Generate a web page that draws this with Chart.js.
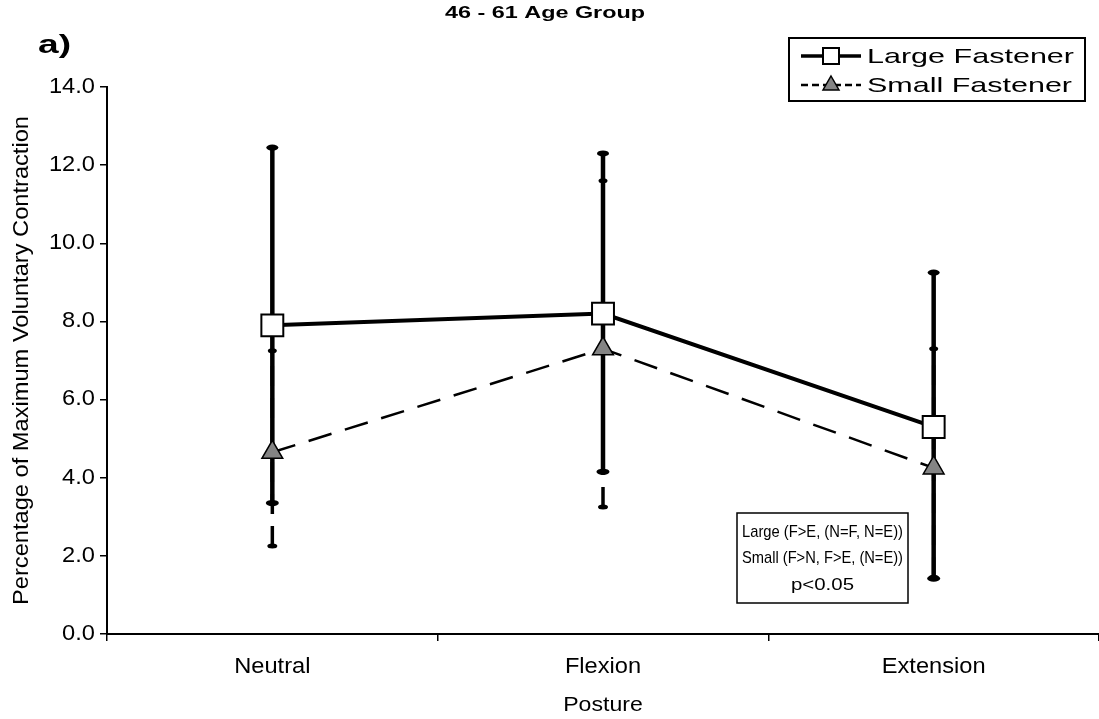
<!DOCTYPE html>
<html>
<head>
<meta charset="utf-8">
<title>46 - 61 Age Group</title>
<script src="https://cdn.jsdelivr.net/npm/chart.js@4/dist/chart.umd.min.js"></script>
<style>
  html, body { margin: 0; padding: 0; background: #fff; }
  canvas { display: block; }
</style>
</head>
<body>
<canvas id="c" width="1099" height="719"></canvas>
<script>
// Posture categories and muscle activity (% MVC), mean with error-bar ends
const postures = ['Neutral', 'Flexion', 'Extension'];
const largeMean = [7.9, 8.2, 5.3];
const largeLow  = [3.35, 4.15, 1.42];
const largeHigh = [12.45, 12.3, 9.25];
const smallMean = [4.65, 7.3, 4.25];
const smallLow  = [2.25, 3.25, 1.45];
const smallHigh = [7.25, 11.6, 7.3];
const yTickStep = 2;
const chartTitle = '46 - 61 Age Group';
const panelTag = 'a)';
const statNotes = ['Large (F>E, (N=F, N=E))', 'Small (F>N, F>E, (N=E))', 'p<0.05'];

const FONT = "'Liberation Sans', Arial, sans-serif";

const canvas = document.getElementById('c');
const ctx2d = canvas.getContext('2d');

// the figure's lettering is set slightly wide: draw every string with a
// horizontal stretch (ctx.textStretchX) around its anchor point
const plainFillText = ctx2d.fillText.bind(ctx2d);
ctx2d.textStretchX = 1.1;
ctx2d.fillText = function (text, x, y, maxWidth) {
  const sx = this.textStretchX || 1;
  this.save();
  this.translate(x, y);
  this.scale(sx, 1);
  if (maxWidth !== undefined) plainFillText(text, 0, 0, maxWidth / sx);
  else plainFillText(text, 0, 0);
  this.restore();
};

// write a string stretched/condensed so that it spans a given width
function fitText(ctx, text, x, y, width) {
  const w = ctx.measureText(text).width;
  const keep = ctx.textStretchX;
  ctx.textStretchX = width / w;
  ctx.fillText(text, x, y);
  ctx.textStretchX = keep;
}

// vertical error bars with rounded caps, drawn under the lines and markers
const errorBars = {
  id: 'errorBars',
  beforeDatasetsDraw(chart) {
    const { ctx, scales: { x, y } } = chart;
    const cap = (px, py, rx, ry) => {
      ctx.beginPath();
      ctx.ellipse(px, py, rx, ry, 0, 0, Math.PI * 2);
      ctx.fill();
    };
    ctx.save();
    ctx.strokeStyle = '#000';
    ctx.fillStyle = '#000';
    // small fastener: dashed bars
    postures.forEach((_, i) => {
      const px = x.getPixelForValue(i);
      const yl = y.getPixelForValue(smallLow[i]);
      const yh = y.getPixelForValue(smallHigh[i]);
      ctx.lineWidth = 3.5;
      ctx.setLineDash([20, 12]);
      ctx.beginPath();
      ctx.moveTo(px, yl);
      ctx.lineTo(px, yh);
      ctx.stroke();
      ctx.setLineDash([]);
      cap(px, yl, 5, 2.5);
      cap(px, yh, 4.5, 2.5);
    });
    // large fastener: solid bars
    postures.forEach((_, i) => {
      const px = x.getPixelForValue(i);
      const yl = y.getPixelForValue(largeLow[i]);
      const yh = y.getPixelForValue(largeHigh[i]);
      ctx.lineWidth = 4.5;
      ctx.beginPath();
      ctx.moveTo(px, yl);
      ctx.lineTo(px, yh);
      ctx.stroke();
      cap(px, yl, 6.5, 3.2);
      cap(px, yh, 6, 3);
    });
    ctx.restore();
  }
};

// title, panel letter, legend box and statistics box
const decorations = {
  id: 'decorations',
  afterDraw(chart) {
    const { ctx } = chart;
    const ds = chart.data.datasets;
    ctx.save();
    ctx.fillStyle = '#000';
    ctx.textBaseline = 'middle';

    ctx.textAlign = 'center';
    ctx.font = `bold 17px ${FONT}`;
    fitText(ctx, chartTitle, 545, 13, 200);

    ctx.textAlign = 'left';
    ctx.font = `bold 25px ${FONT}`;
    fitText(ctx, panelTag, 38, 46, 33);

    // legend
    const lx = 789, ly = 38, lw = 296, lh = 63;
    ctx.fillStyle = '#fff';
    ctx.fillRect(lx, ly, lw, lh);
    ctx.strokeStyle = '#000';
    ctx.lineWidth = 2;
    ctx.strokeRect(lx, ly, lw, lh);
    const rows = [ly + 18, ly + 47];
    ds.forEach((d, i) => {
      const yy = rows[i];
      ctx.strokeStyle = '#000';
      ctx.lineWidth = i === 0 ? 3.5 : 2.5;
      ctx.setLineDash(i === 0 ? [] : [7, 4]);
      ctx.beginPath();
      ctx.moveTo(lx + 12, yy);
      ctx.lineTo(lx + 72, yy);
      ctx.stroke();
      ctx.setLineDash([]);
      const mx = lx + 42;
      ctx.lineWidth = i === 0 ? 2 : 1.5;
      ctx.fillStyle = d.pointBackgroundColor;
      if (d.pointStyle === 'rect') {
        ctx.fillRect(mx - 8, yy - 8, 16, 16);
        ctx.strokeRect(mx - 8, yy - 8, 16, 16);
      } else {
        ctx.beginPath();
        ctx.moveTo(mx, yy - 9);
        ctx.lineTo(mx + 8, yy + 5);
        ctx.lineTo(mx - 8, yy + 5);
        ctx.closePath();
        ctx.fill();
        ctx.stroke();
      }
      ctx.fillStyle = '#000';
      ctx.font = `21px ${FONT}`;
      ctx.textAlign = 'left';
      fitText(ctx, d.label, lx + 78, yy + 1, i === 0 ? 207 : 205);
    });

    // statistics note
    const bx = 737, by = 513, bw = 171, bh = 90;
    ctx.fillStyle = '#fff';
    ctx.fillRect(bx, by, bw, bh);
    ctx.strokeStyle = '#000';
    ctx.lineWidth = 1.5;
    ctx.strokeRect(bx, by, bw, bh);
    ctx.fillStyle = '#000';
    ctx.font = `17px ${FONT}`;
    ctx.textAlign = 'center';
    const widths = [161, 161, 63];
    statNotes.forEach((t, i) => fitText(ctx, t, bx + bw / 2, by + 19 + i * 26.5, widths[i]));
    ctx.restore();
  }
};

const tickFont = { family: FONT, size: 21.5 };

new Chart(canvas, {
  type: 'line',
  data: {
    labels: postures,
    datasets: [
      {
        label: 'Large Fastener',
        data: largeMean,
        borderColor: '#000',
        borderWidth: 4,
        pointStyle: 'rect',
        pointRadius: 15.5,
        pointBackgroundColor: '#fff',
        pointBorderColor: '#000',
        pointBorderWidth: 2,
        tension: 0
      },
      {
        label: 'Small Fastener',
        data: smallMean,
        borderColor: '#000',
        borderWidth: 2.5,
        borderDash: [24, 14],
        pointStyle: 'triangle',
        pointRadius: 12,
        pointBackgroundColor: '#848484',
        pointBorderColor: '#000',
        pointBorderWidth: 1.5,
        tension: 0
      }
    ]
  },
  options: {
    responsive: false,
    animation: false,
    devicePixelRatio: 1,
    layout: { autoPadding: false, padding: { top: 87, left: 0, right: 0, bottom: 0 } },
    plugins: {
      legend: { display: false },
      title: { display: false },
      tooltip: { enabled: false }
    },
    scales: {
      x: {
        offset: true,
        grid: { offset: true, drawOnChartArea: false, drawTicks: true, tickLength: 7, color: '#000', lineWidth: 1.5 },
        border: { display: true, color: '#000', width: 2 },
        ticks: { color: '#000', font: tickFont, padding: 13 },
        title: { display: true, text: 'Posture', color: '#000', font: { family: FONT, size: 21 }, padding: { top: 0, bottom: 1.5 } },
        afterFit(scale) { scale.height = 85; scale.paddingLeft = 0; scale.paddingRight = 0; }
      },
      y: {
        min: 0,
        max: 14,
        grid: { drawOnChartArea: false, drawTicks: true, tickLength: 7, color: '#000', lineWidth: 1.5 },
        border: { display: true, color: '#000', width: 2 },
        ticks: { stepSize: yTickStep, color: '#000', font: tickFont, padding: 5, callback: v => Number(v).toFixed(1) },
        title: { display: true, text: 'Percentage of Maximum Voluntary Contraction', color: '#000', font: { family: FONT, size: 21.5 }, padding: { top: 9, bottom: 0 } },
        afterFit(scale) { scale.width = 107; }
      }
    }
  },
  plugins: [errorBars, decorations]
});
</script>
</body>
</html>
